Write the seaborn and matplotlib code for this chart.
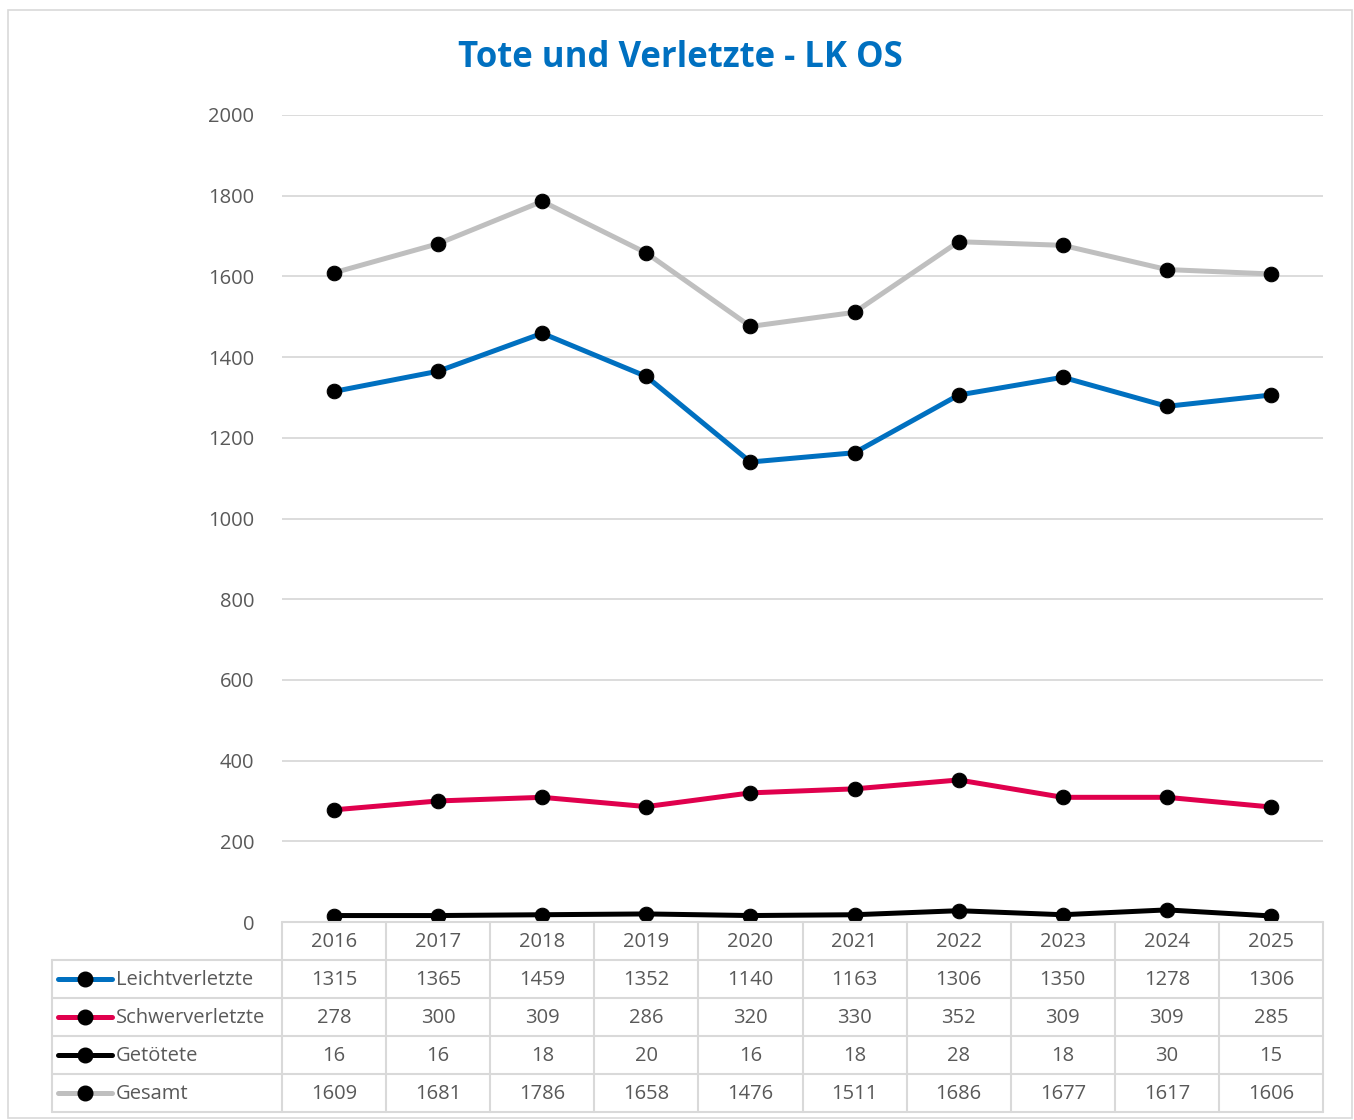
import numpy as np
import matplotlib.pyplot as plt
import seaborn as sns
from matplotlib.patches import Rectangle
from matplotlib.lines import Line2D

# Daten
years = ["2016", "2017", "2018", "2019", "2020", "2021", "2022", "2023", "2024", "2025"]
leichtverletzte = [1315, 1365, 1459, 1352, 1140, 1163, 1306, 1350, 1278, 1306]
schwerverletzte = [278, 300, 309, 286, 320, 330, 352, 309, 309, 285]
getoetete = [16, 16, 18, 20, 16, 18, 28, 18, 30, 15]
gesamt = [1609, 1681, 1786, 1658, 1476, 1511, 1686, 1677, 1617, 1606]

series_names = ["Leichtverletzte", "Schwerverletzte", "Getötete", "Gesamt"]
series_values = [leichtverletzte, schwerverletzte, getoetete, gesamt]
series_colors = ["#0070C0", "#E0004D", "#000000", "#BFBFBF"]
y_ticks = list(range(0, 2001, 200))

sns.set_theme(style="white")
plt.rcParams["font.family"] = ["Open Sans", "DejaVu Sans"]

W, H = 1354, 1120
fig = plt.figure(figsize=(W / 100, H / 100), dpi=100)


def box(l, t, r, b):
    # Pixel-Box -> Figure-Koordinaten
    return [l / W, 1 - b / H, (r - l) / W, (b - t) / H]


# Rahmen um das Diagramm
fig.patches.append(Rectangle((8 / W, 1 - 1118 / H), 1344 / W, 1108 / H,
                             transform=fig.transFigure, fill=False,
                             edgecolor="#D9D9D9", linewidth=1.2))

fig.text(680 / W, 1 - 58 / H, "Tote und Verletzte - LK OS", ha="center", va="center",
         fontsize=25, fontweight="bold", color="#0070C0")

# Liniendiagramm
ax = fig.add_axes(box(282, 115, 1323, 922))
x = np.arange(len(years))
for name, vals, col in zip(series_names, series_values, series_colors):
    sns.lineplot(x=x, y=vals, ax=ax, color=col, linewidth=3.6, marker="o",
                 markersize=10.5, markerfacecolor="black", markeredgecolor="black",
                 label=name, legend=False)

ax.set_xlim(-0.5, len(years) - 0.5)
ax.set_ylim(0, 2000)
ax.set_yticks(y_ticks)
ax.set_xticks([])
ax.grid(axis="y", color="#D9D9D9", linewidth=1.3)
ax.set_axisbelow(True)
for s in ax.spines.values():
    s.set_visible(False)
ax.tick_params(axis="y", length=0, pad=20, labelsize=14.5, labelcolor="#595959")
ax.set_xlabel("")
ax.set_ylabel("")

# Datentabelle unterhalb
tab = fig.add_axes(box(52, 922, 1323, 1112))
col_w = 1041 / len(years)
lab_w = 230 / col_w
x0 = -0.5 - lab_w
x1 = len(years) - 0.5
n_rows = len(series_names) + 1
tab.set_xlim(x0, x1)
tab.set_ylim(n_rows, 0)
tab.axis("off")

grid_kw = dict(color="#D9D9D9", linewidth=1.5, clip_on=False)
tab.plot([-0.5, x1], [0, 0], **grid_kw)
for r in range(1, n_rows + 1):
    tab.plot([x0, x1], [r, r], **grid_kw)
tab.plot([x0, x0], [1, n_rows], **grid_kw)
for i in range(len(years) + 1):
    tab.plot([i - 0.5, i - 0.5], [0, n_rows], **grid_kw)

txt_kw = dict(ha="center", va="center", fontsize=14.5, color="#595959")
for i, yr in enumerate(years):
    tab.text(i, 0.52, yr, **txt_kw)
for r, (name, vals, col) in enumerate(zip(series_names, series_values, series_colors), start=1):
    for i, v in enumerate(vals):
        tab.text(i, r + 0.52, str(v), **txt_kw)
    lx0 = x0 + 6 / col_w
    lx1 = x0 + 60 / col_w
    tab.add_line(Line2D([lx0, lx1], [r + 0.5, r + 0.5], color=col, linewidth=3.6))
    tab.plot([(lx0 + lx1) / 2], [r + 0.5], marker="o", markersize=10.5, color="black")
    tab.text(x0 + 64 / col_w, r + 0.52, name, ha="left", va="center",
             fontsize=14.5, color="#595959")

fig.savefig("out.png", dpi=100)
